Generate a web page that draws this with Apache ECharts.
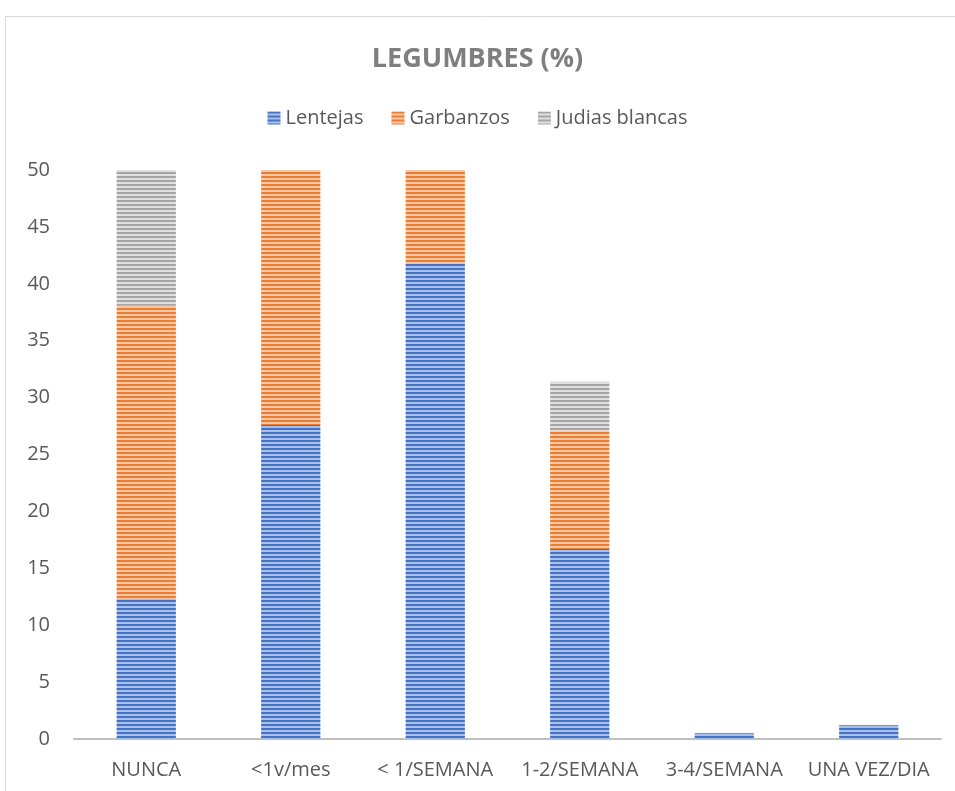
<!DOCTYPE html>
<html>
<head>
<meta charset="utf-8">
<script src="https://cdn.jsdelivr.net/npm/echarts@6/dist/echarts.min.js"></script>
<style>
  html, body { margin: 0; padding: 0; background: #fff; }
  #chart { width: 955px; height: 791px; }
</style>
</head>
<body>
<div id="chart"></div>
<script>
  var categories = ['NUNCA', '<1v/mes', '< 1/SEMANA', '1-2/SEMANA', '3-4/SEMANA', 'UNA VEZ/DIA'];
  var lentejas = [12.3, 27.6, 41.8, 16.7, 0.5, 1.2];
  var garbanzos = [25.8, 22.4, 8.2, 10.4, 0, 0];
  var judias = [11.9, 0, 0, 4.3, 0, 0];

  // striped fill like the original (horizontal lines)
  function stripes(dark, light) {
    var c = document.createElement('canvas');
    c.width = 8;
    c.height = 4;
    var ctx = c.getContext('2d');
    ctx.fillStyle = light;
    ctx.fillRect(0, 0, 8, 4);
    ctx.fillStyle = dark;
    ctx.fillRect(0, 0, 8, 2);
    return { image: c, repeat: 'repeat' };
  }

  var font = '"Open Sans", "Liberation Sans", sans-serif';
  var chart = echarts.init(document.getElementById('chart'));

  chart.setOption({
    animation: false,
    title: {
      text: 'LEGUMBRES (%)',
      left: 'center',
      top: 41,
      textStyle: { color: '#7F7F7F', fontSize: 27, fontWeight: 'bold', fontFamily: font }
    },
    legend: {
      data: ['Lentejas', 'Garbanzos', 'Judias blancas'],
      top: 103,
      left: 'center',
      itemWidth: 13,
      itemHeight: 13,
      itemGap: 28,
      icon: 'rect',
      textStyle: { color: '#595959', fontSize: 20, fontFamily: font }
    },
    grid: { left: 74, right: 14, top: 170, bottom: 52 },
    xAxis: {
      type: 'category',
      data: categories,
      axisTick: { show: false },
      axisLine: { lineStyle: { color: '#BFBFBF', width: 2 } },
      axisLabel: { color: '#595959', fontSize: 20, fontFamily: font, margin: 21, interval: 0 }
    },
    yAxis: {
      type: 'value',
      min: 0,
      max: 50,
      interval: 5,
      splitLine: { show: false },
      axisLine: { show: false },
      axisTick: { show: false },
      axisLabel: { color: '#595959', fontSize: 20, fontFamily: font, margin: 24 }
    },
    graphic: [{
      type: 'rect',
      shape: { x: 5.5, y: 16.5, width: 960, height: 800 },
      style: { fill: 'none', stroke: '#D9D9D9', lineWidth: 1 },
      silent: true
    }],
    series: [{
      name: 'Lentejas',
      type: 'bar',
      stack: 'a',
      barWidth: '41%',
      data: lentejas,
      itemStyle: { color: stripes('#4472C4', '#A9C0EA') }
    }, {
      name: 'Garbanzos',
      type: 'bar',
      stack: 'a',
      data: garbanzos,
      itemStyle: { color: stripes('#ED7D31', '#F8C8A6') }
    }, {
      name: 'Judias blancas',
      type: 'bar',
      stack: 'a',
      data: judias,
      itemStyle: { color: stripes('#A5A5A5', '#E0E0E0') }
    }]
  });
</script>
</body>
</html>
